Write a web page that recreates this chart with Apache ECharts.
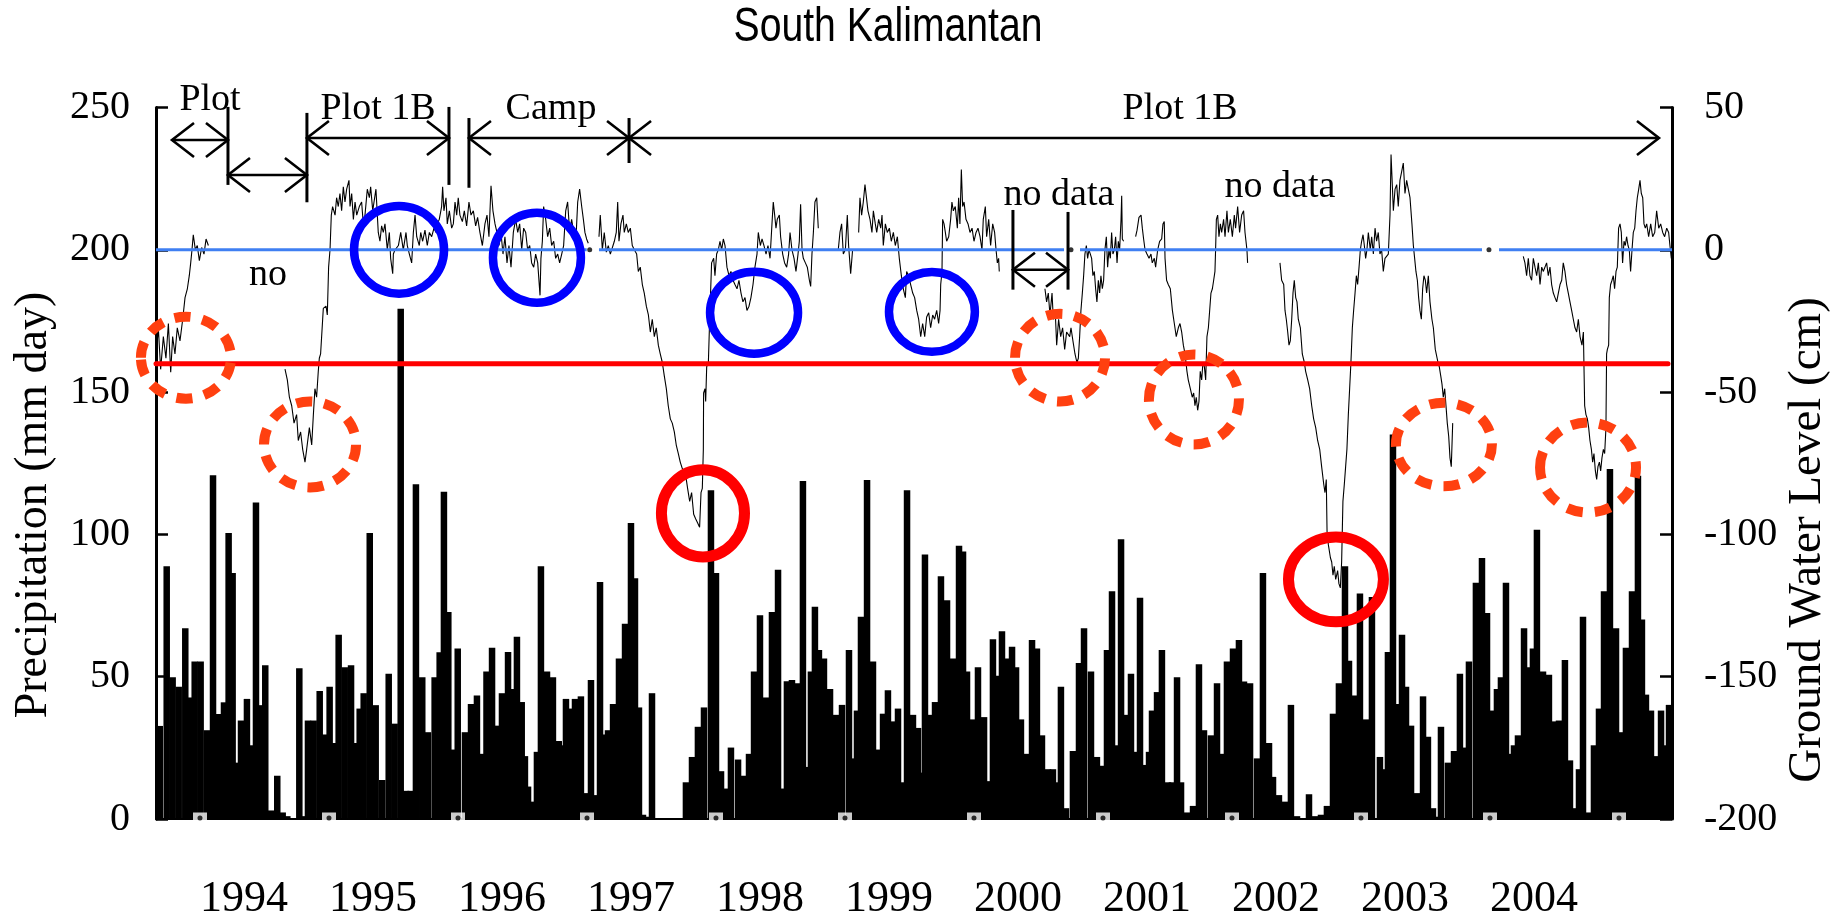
<!DOCTYPE html>
<html>
<head>
<meta charset="utf-8">
<script src="https://cdn.jsdelivr.net/npm/echarts@6/dist/echarts.min.js"></script>
<style>html,body{margin:0;padding:0;background:#fff}#chart{width:1845px;height:921px}</style>
</head>
<body>
<div id="chart"></div>
<script>
// ---------- DATA ----------
const yearTicks = [1994, 1995, 1996, 1997, 1998, 1999, 2000, 2001, 2002, 2003, 2004, 2005];
const yearLabels = [1994, 1995, 1996, 1997, 1998, 1999, 2000, 2001, 2002, 2003, 2004];
const precipTicks = [0, 50, 100, 150, 200, 250];
const levelTicks = [-200, -150, -100, -50, 0, 50];

// daily precipitation (decimal year, mm/day) - visible spikes
const precipitation = [
[1993.688,32.7],[1993.742,88.8],[1993.788,49.8],[1993.835,46.5],[1993.886,67],[1993.922,42.7],[1993.959,55.3],[1994.005,55.3],
[1994.054,31.2],[1994.101,120.8],[1994.147,36.9],[1994.186,41],[1994.222,100.5],[1994.253,86.4],[1994.284,19.8],[1994.318,34.6],
[1994.364,42.2],[1994.395,25.9],[1994.434,111.2],[1994.473,40],[1994.506,54],[1994.550,3],[1994.599,15.2],[1994.641,2.3],
[1994.677,1],[1994.721,0.3],[1994.770,53],[1994.804,1],[1994.837,34.6],[1994.881,34.6],[1994.928,45],[1994.969,29.7],
[1995.005,46.5],[1995.039,26.7],[1995.075,64.7],[1995.122,53.3],[1995.171,54],[1995.207,26.7],[1995.238,38.8],[1995.269,44.2],
[1995.316,100.5],[1995.362,40],[1995.413,13.7],[1995.463,51],[1995.509,33.5],[1995.556,179.3],[1995.597,9.9],[1995.633,9.9],
[1995.674,117.6],[1995.723,49.8],[1995.767,30.5],[1995.819,49.8],[1995.858,58.6],[1995.891,115],[1995.925,72.7],[1995.959,24.4],
[1995.998,59.9],[1996.054,30.5],[1996.101,40.4],[1996.147,43.4],[1996.186,22.9],[1996.221,51.8],[1996.264,60.2],[1996.302,32.8],
[1996.341,44.2],[1996.388,58.7],[1996.419,45.7],[1996.457,64],[1996.494,41.1],[1996.519,22.1],[1996.543,11.4],[1996.581,6.1],
[1996.612,23.6],[1996.643,88.8],[1996.690,51.8],[1996.736,49.8],[1996.781,27.4],[1996.806,25.9],[1996.837,42.2],[1996.876,38.8],
[1996.907,42.2],[1996.953,43.1],[1996.992,9.1],[1997.031,48.8],[1997.070,8.4],[1997.101,83.3],[1997.140,29.7],[1997.163,31.2],
[1997.202,40.4],[1997.248,56.4],[1997.295,68.6],[1997.341,104],[1997.372,84.6],[1997.403,39.2],[1997.434,1.5],[1997.473,0.8],
[1997.504,44.2],[1997.767,12.9],[1997.814,21.8],[1997.860,32.4],[1997.907,39.2],[1997.961,115.5],[1998.000,86.4],[1998.039,16.8],
[1998.070,10.7],[1998.116,25.1],[1998.171,20.9],[1998.217,15.2],[1998.256,22.9],[1998.295,51.8],[1998.341,71.6],[1998.388,42.7],
[1998.434,72.7],[1998.481,87.6],[1998.519,10.7],[1998.550,48.4],[1998.589,48.8],[1998.628,47.7],[1998.674,118.8],[1998.713,18.3],
[1998.736,51.8],[1998.767,74.6],[1998.798,59.4],[1998.837,56.4],[1998.884,45.7],[1998.930,36.6],[1998.977,40.1],[1999.031,59.4],
[1999.062,21.3],[1999.093,38.1],[1999.124,71.1],[1999.171,119.1],[1999.217,55.3],[1999.256,24.4],[1999.295,37],[1999.333,45.2],
[1999.372,34.3],[1999.411,38.8],[1999.450,12.9],[1999.481,115.5],[1999.527,36.6],[1999.566,32],[1999.589,16.3],[1999.620,92.9],
[1999.659,36.6],[1999.698,41.1],[1999.744,85.3],[1999.791,76.9],[1999.837,56.4],[1999.884,96],[1999.915,94],[1999.946,51.8],
[1999.984,35],[2000.031,53.3],[2000.078,35.8],[2000.116,13.3],[2000.147,63.2],[2000.186,50.3],[2000.217,66],[2000.256,56.4],
[2000.295,60.5],[2000.326,53.3],[2000.364,35],[2000.411,22.9],[2000.450,62.9],[2000.488,59.9],[2000.527,29.4],[2000.574,17.5],
[2000.612,17.5],[2000.636,12.9],[2000.674,46.5],[2000.713,3.8],[2000.767,23.9],[2000.814,54.8],[2000.853,67],[2000.907,51.8],
[2000.953,21.8],[2000.992,18.7],[2001.031,59.4],[2001.070,80],[2001.109,25.9],[2001.140,98.3],[2001.178,36.6],[2001.217,51],
[2001.256,23.6],[2001.287,77.7],[2001.326,19],[2001.357,23.6],[2001.380,38.1],[2001.419,44.6],[2001.457,59.4],[2001.504,12.9],
[2001.535,12.9],[2001.574,49.8],[2001.605,12.9],[2001.651,2.3],[2001.698,4.6],[2001.744,54.4],[2001.783,31.2],[2001.837,29.4],
[2001.884,47.7],[2001.922,22.9],[2001.961,55.3],[2002.008,59.9],[2002.054,62.9],[2002.093,48.3],[2002.140,47.7],[2002.194,21.3],
[2002.240,86.4],[2002.287,26.7],[2002.318,14.8],[2002.364,8.4],[2002.411,6.1],[2002.457,40.1],[2002.504,1],[2002.597,8.7],
[2002.643,1],[2002.690,1.5],[2002.736,4.6],[2002.783,37],[2002.829,47.7],[2002.876,88.8],[2002.907,55.6],[2002.953,43.4],
[2002.992,79.2],[2003.039,35],[2003.085,78],[2003.147,21.8],[2003.186,17.5],[2003.209,58.7],[2003.248,135.1],[2003.287,40.4],
[2003.318,64.7],[2003.349,46.5],[2003.388,32.8],[2003.434,9.1],[2003.481,43.1],[2003.519,28.9],[2003.558,3.8],[2003.589,0.8],
[2003.620,32.4],[2003.674,19.8],[2003.721,23.9],[2003.767,51],[2003.806,25.1],[2003.837,55.3],[2003.891,83],[2003.938,91.7],
[2003.977,72.4],[2004.008,38.1],[2004.054,45.7],[2004.085,49.8],[2004.124,83],[2004.163,22.9],[2004.186,25.9],[2004.217,29.4],
[2004.264,67],[2004.302,53.3],[2004.333,59.9],[2004.364,101.6],[2004.411,51.8],[2004.457,50.7],[2004.496,34.3],[2004.535,34.6],
[2004.581,55.9],[2004.620,20.6],[2004.651,3.8],[2004.690,17.5],[2004.721,71.1],[2004.760,2.3],[2004.806,25.9],[2004.845,38.8],
[2004.884,80],[2004.930,123],[2004.977,67],[2005.016,30.5],[2005.054,60.2],[2005.101,80],[2005.147,120.6],[2005.178,70.1],
[2005.209,43.7],[2005.248,38.1],[2005.287,22.1],[2005.326,38.1],[2005.349,25.9],[2005.388,40.1]
];

// ground water level (decimal year, cm); null = gap in record
const groundWater = [
[1993.664,-35.0],[1993.677,-27.4],[1993.695,-42.0],[1993.716,-30.5],[1993.736,-38.1],[1993.755,-25.9],[1993.773,-43.0],[1993.788,-30.5],
[1993.806,-36.6],[1993.824,-27.4],[1993.845,-32.0],[1993.866,-24.4],[1993.884,-16.8],[1993.902,-13.7],[1993.917,-9.1],[1993.928,-4.6],
[1993.938,0],[1993.948,5.3],[1993.964,0],[1993.979,1.5],[1993.995,-3.8],[1994.013,0.8],[1994.031,-1.5],[1994.047,3.8],[1994.065,1.5],
null,
[1994.659,-41.9],[1994.677,-45.7],[1994.693,-51.8],[1994.711,-54.8],[1994.729,-60.9],[1994.749,-57.9],[1994.762,-67.0],[1994.780,-64.0],
[1994.796,-70.1],[1994.814,-74.6],[1994.827,-70.1],[1994.848,-62.5],[1994.866,-68.6],[1994.879,-57.9],[1994.891,-48.8],[1994.904,-51.8],
[1994.917,-42.7],[1994.925,-38.1],[1994.935,-36.6],[1994.951,-24.4],[1994.956,-20.6],[1994.977,-19.8],[1994.987,-22.9],[1994.997,-6.1],
[1995.008,0],[1995.018,12.2],[1995.028,15.2],[1995.047,12.2],[1995.059,18.3],[1995.072,15.2],[1995.085,19.8],[1995.098,13.7],
[1995.111,22.1],[1995.124,16.8],[1995.137,21.3],[1995.155,24.4],[1995.163,15.2],[1995.176,19.8],[1995.189,10.7],[1995.202,16.8],
[1995.215,12.2],[1995.235,15.2],[1995.253,16.8],[1995.266,9.1],[1995.279,12.2],[1995.297,21.3],[1995.313,18.3],[1995.323,22.1],
[1995.339,13.7],[1995.349,16.8],[1995.364,21.3],[1995.382,6.1],[1995.395,3.0],[1995.408,8.4],[1995.421,6.1],[1995.434,9.1],
[1995.452,0],[1995.468,6.1],[1995.478,-3.0],[1995.494,-8.4],[1995.499,-1.5],[1995.512,0],[1995.538,1.5],[1995.556,6.1],
[1995.576,0],[1995.597,6.1],[1995.607,1.5],[1995.623,-1.5],[1995.641,-4.6],[1995.654,6.1],[1995.667,12.2],[1995.680,4.6],
[1995.700,1.5],[1995.711,6.1],[1995.726,3.0],[1995.744,6.9],[1995.762,1.5],[1995.778,6.1],[1995.796,4.6],[1995.814,7.6],
[1995.830,6.1],[1995.840,9.1],[1995.855,10.7],[1995.873,15.2],[1995.881,22.1],[1995.891,13.7],[1995.907,18.3],[1995.917,9.1],
[1995.933,13.7],[1995.951,7.6],[1995.964,9.1],[1995.977,16.8],[1995.990,12.2],[1996.002,18.3],[1996.015,12.2],[1996.034,9.9],
[1996.049,13.7],[1996.067,8.4],[1996.085,16.8],[1996.101,12.2],[1996.119,13.7],[1996.137,8.4],[1996.152,11.4],[1996.170,6.1],
[1996.189,1.5],[1996.209,9.1],[1996.225,12.2],[1996.240,4.6],[1996.256,22.5],[1996.271,13.7],[1996.287,9.1],[1996.302,6.1],
[1996.318,1.5],[1996.333,6.1],[1996.349,-1.5],[1996.364,4.6],[1996.380,-4.6],[1996.395,1.5],[1996.411,-6.1],[1996.429,6.1],
[1996.447,10.7],[1996.463,6.1],[1996.478,9.1],[1996.494,0],[1996.509,7.6],[1996.525,6.1],[1996.540,0],[1996.556,1.5],
[1996.571,-4.6],[1996.587,-6.1],[1996.602,-1.5],[1996.618,-4.6],[1996.636,-16.0],[1996.643,-3.0],[1996.654,3.0],[1996.664,15.2],
[1996.680,10.7],[1996.695,4.6],[1996.711,7.6],[1996.726,1.5],[1996.742,3.0],[1996.757,-3.0],[1996.773,-1.5],[1996.788,-4.6],
[1996.804,-1.5],[1996.819,1.5],[1996.835,13.7],[1996.850,16.8],[1996.866,6.1],[1996.881,10.7],[1996.897,6.1],[1996.912,1.5],
[1996.928,16.8],[1996.943,21.3],[1996.959,15.2],[1996.972,10.7],[1996.984,6.1],[1996.997,3.8],[1997.010,2.3],
null,
[1997.093,4.6],[1997.103,12.2],[1997.119,0],[1997.134,6.1],[1997.150,-0.8],[1997.165,1.5],[1997.181,-1.5],[1997.196,-0.8],
[1997.212,3.0],[1997.227,6.1],[1997.238,16.8],[1997.248,3.0],[1997.263,9.1],[1997.279,12.2],[1997.289,6.1],[1997.305,9.1],
[1997.320,6.1],[1997.336,7.6],[1997.351,1.5],[1997.367,0],[1997.385,-1.5],[1997.398,-7.6],[1997.413,-6.1],[1997.429,-12.2],
[1997.444,-15.2],[1997.460,-19.8],[1997.476,-22.9],[1997.491,-28.9],[1997.506,-24.4],[1997.522,-30.5],[1997.537,-27.4],[1997.553,-33.5],
[1997.568,-36.6],[1997.584,-39.6],[1997.599,-44.2],[1997.615,-48.8],[1997.630,-54.8],[1997.646,-59.4],[1997.661,-60.9],[1997.677,-64.0],
[1997.692,-68.6],[1997.708,-71.6],[1997.723,-74.6],[1997.739,-76.9],[1997.760,-77.7],[1997.780,-83.8],[1997.796,-88.4],[1997.811,-85.3],
[1997.827,-92.9],[1997.842,-94.5],[1997.858,-96.0],[1997.873,-97.5],[1997.884,-85.3],[1997.894,-83.8],[1997.902,-70.1],[1997.904,-50.3],
[1997.915,-48.8],[1997.920,-53.3],[1997.928,-41.1],[1997.941,-39.6],[1997.951,-24.4],[1997.966,-4.6],[1997.982,-3.0],[1997.992,-9.1],
[1998.005,-1.5],[1998.018,0],[1998.031,3.0],[1998.044,0],[1998.057,3.8],[1998.070,1.5],[1998.085,-6.1],[1998.101,-9.1],
[1998.116,-7.6],[1998.132,-10.7],[1998.147,-12.2],[1998.163,-13.7],[1998.178,-10.7],[1998.194,-15.2],[1998.209,-18.3],[1998.225,-16.8],
[1998.240,-21.3],[1998.256,-19.8],[1998.271,-16.8],[1998.287,-12.2],[1998.302,-6.1],[1998.318,-1.5],[1998.328,6.1],[1998.344,1.5],
[1998.357,3.8],[1998.372,1.5],[1998.388,-1.5],[1998.403,1.5],[1998.419,-3.0],[1998.434,9.1],[1998.444,16.8],[1998.455,12.2],
[1998.465,7.6],[1998.475,10.7],[1998.491,12.2],[1998.501,4.6],[1998.517,-1.5],[1998.532,-4.6],[1998.548,-6.1],[1998.563,-1.5],
[1998.574,6.1],[1998.589,0],[1998.605,-3.0],[1998.620,-7.6],[1998.636,-1.5],[1998.646,3.0],[1998.656,16.0],[1998.667,0],
[1998.677,-3.0],[1998.693,-4.6],[1998.708,-6.1],[1998.724,-10.7],[1998.734,-12.9],[1998.744,-1.5],[1998.755,6.1],[1998.767,16.8],
[1998.781,18.3],[1998.793,7.6],
null,
[1998.948,0],[1998.961,6.1],[1998.974,9.1],[1998.987,-1.5],[1999.003,0],[1999.018,12.2],[1999.028,1.5],[1999.044,-8.4],[1999.059,0],
null,
[1999.106,6.1],[1999.116,18.3],[1999.129,12.2],[1999.142,16.8],[1999.155,22.9],[1999.168,23.6],[1999.178,13.7],[1999.194,10.7],
[1999.209,6.1],[1999.220,13.7],[1999.235,9.1],[1999.246,6.1],[1999.261,10.7],[1999.277,7.6],[1999.287,12.2],[1999.297,1.5],
[1999.313,9.1],[1999.328,6.1],[1999.344,7.6],[1999.359,3.0],[1999.375,6.1],[1999.390,1.5],[1999.406,4.6],[1999.421,-3.0],
[1999.437,-9.1],[1999.452,-13.7],[1999.468,-16.8],[1999.478,-7.6],[1999.493,-9.1],[1999.509,-12.2],[1999.525,-15.2],[1999.540,-16.8],
[1999.556,-21.3],[1999.571,-24.4],[1999.587,-30.5],[1999.602,-25.9],[1999.618,-30.5],[1999.633,-23.6],[1999.649,-22.1],[1999.664,-27.4],
[1999.680,-22.9],[1999.695,-24.4],[1999.711,-21.3],[1999.726,-25.9],[1999.737,-21.3],[1999.742,-12.2],[1999.752,-7.6],[1999.757,10.7],
[1999.768,9.1],[1999.778,6.1],[1999.788,3.0],[1999.804,4.6],[1999.819,10.7],[1999.829,16.8],[1999.840,13.7],[1999.855,15.2],
[1999.871,7.6],[1999.881,18.3],[1999.891,9.1],[1999.902,28.2],[1999.912,15.2],[1999.923,16.8],[1999.938,10.7],[1999.954,9.1],
[1999.969,6.1],[1999.985,7.6],[2000.000,3.0],[2000.016,6.1],[2000.031,7.6],[2000.047,4.6],[2000.062,0],[2000.072,10.7],
[2000.088,15.2],[2000.098,4.6],[2000.114,10.7],[2000.129,1.5],[2000.145,9.1],[2000.160,6.1],[2000.171,0],[2000.181,-4.6],
[2000.191,-3.0],[2000.196,-7.6],
null,
[2000.550,-13.7],[2000.563,-18.3],[2000.576,-15.2],[2000.589,-22.9],[2000.605,-15.2],[2000.615,-24.4],[2000.631,-22.9],[2000.641,-33.5],
[2000.656,-24.4],[2000.672,-30.5],[2000.687,-27.4],[2000.703,-35.0],[2000.718,-28.9],[2000.726,-28.9],[2000.742,-30.5],[2000.752,-27.4],
[2000.767,-32.0],[2000.783,-36.6],[2000.798,-39.6],[2000.809,-38.1],[2000.819,-30.5],[2000.829,-21.3],[2000.840,-15.2],[2000.850,-9.1],
[2000.860,-1.5],[2000.871,1.5],[2000.881,-3.0],[2000.891,0],[2000.902,-1.5],[2000.912,-3.0],[2000.922,-9.1],[2000.933,-7.6],
[2000.943,-13.7],[2000.953,-18.3],[2000.964,-10.7],[2000.974,-15.2],[2000.984,-9.1],[2000.995,-13.7],[2001.005,-10.7],[2001.015,0],
[2001.026,4.6],[2001.036,-6.1],[2001.046,0],[2001.057,-3.0],[2001.067,6.1],[2001.077,-1.5],[2001.088,0],[2001.098,4.6],
[2001.109,-4.6],[2001.119,3.0],[2001.129,0],[2001.140,10.7],[2001.145,19.0],[2001.150,3.8],[2001.160,3.0],
null,
[2001.253,4.6],[2001.264,6.9],[2001.279,11.4],[2001.295,12.2],[2001.305,7.6],[2001.315,3.8],[2001.326,0],[2001.341,-1.5],
[2001.357,-3.0],[2001.372,-1.5],[2001.382,-4.6],[2001.398,-3.0],[2001.408,-6.1],[2001.424,0],[2001.439,3.0],[2001.455,3.8],
[2001.465,9.1],[2001.475,9.9],[2001.481,-3.0],[2001.493,-10.7],[2001.506,-12.2],[2001.522,-13.7],[2001.538,-21.3],[2001.553,-25.9],
[2001.568,-30.5],[2001.584,-27.4],[2001.597,-25.9],[2001.610,-28.9],[2001.623,-33.5],[2001.636,-36.6],[2001.651,-42.7],[2001.661,-45.7],
[2001.677,-48.8],[2001.692,-51.8],[2001.703,-50.3],[2001.713,-54.8],[2001.723,-51.8],[2001.734,-56.4],[2001.744,-53.3],[2001.754,-42.7],
[2001.765,-45.7],[2001.775,-39.6],[2001.786,-41.1],[2001.796,-45.7],[2001.806,-30.5],[2001.817,-27.4],[2001.827,-21.3],[2001.837,-15.2],
[2001.848,-13.7],[2001.858,-10.7],[2001.868,-7.6],[2001.873,0],[2001.879,10.7],[2001.889,12.2],[2001.899,4.6],[2001.910,9.1],
[2001.920,6.1],[2001.935,10.7],[2001.946,4.6],[2001.961,13.7],[2001.972,6.1],[2001.987,10.7],[2002.003,4.6],[2002.018,12.2],
[2002.028,7.6],[2002.044,15.2],[2002.059,6.1],[2002.075,12.2],[2002.090,13.7],[2002.101,6.1],[2002.116,0],[2002.121,-4.6],
null,
[2002.372,-4.6],[2002.385,-10.7],[2002.401,-12.2],[2002.411,-21.3],[2002.421,-24.4],[2002.432,-28.9],[2002.442,-33.5],[2002.452,-32.0],
[2002.463,-24.4],[2002.473,-15.2],[2002.483,-10.7],[2002.494,-16.8],[2002.504,-18.3],[2002.514,-24.4],[2002.530,-27.4],[2002.545,-36.6],
[2002.561,-39.6],[2002.571,-42.7],[2002.587,-45.7],[2002.602,-48.8],[2002.618,-54.8],[2002.633,-59.4],[2002.649,-62.5],[2002.664,-67.0],
[2002.680,-70.1],[2002.695,-76.2],[2002.711,-82.3],[2002.721,-85.3],[2002.731,-80.7],[2002.737,-99.0],[2002.747,-103.6],[2002.763,-108.2],
[2002.773,-109.7],[2002.783,-114.3],[2002.793,-111.2],[2002.804,-115.8],[2002.819,-112.7],[2002.829,-117.3],[2002.840,-118.8],[2002.850,-109.7],
[2002.860,-88.4],[2002.871,-82.3],[2002.881,-76.2],[2002.891,-70.1],[2002.902,-57.9],[2002.912,-48.8],[2002.922,-39.6],[2002.933,-27.4],
[2002.943,-21.3],[2002.954,-15.2],[2002.964,-9.1],[2002.974,-12.2],[2002.985,-6.1],[2002.995,0],[2003.005,3.0],[2003.016,5.3],
[2003.026,1.5],[2003.036,-3.0],[2003.046,0],[2003.057,6.1],[2003.072,0],[2003.083,4.6],[2003.096,-1.5],[2003.109,7.6],
[2003.121,3.0],[2003.134,6.1],[2003.147,-1.5],[2003.160,0],[2003.173,-7.6],[2003.186,-3.0],[2003.199,-2.3],[2003.212,-1.5],
[2003.225,12.2],[2003.233,33.5],[2003.240,25.9],[2003.251,13.7],[2003.264,21.3],[2003.277,22.9],[2003.289,15.2],[2003.302,24.4],
[2003.315,27.4],[2003.328,30.5],[2003.341,19.8],[2003.354,24.4],[2003.367,21.3],[2003.380,18.3],[2003.395,9.1],[2003.406,1.5],
[2003.416,-3.0],[2003.426,-7.6],[2003.437,-10.7],[2003.447,-16.8],[2003.457,-21.3],[2003.468,-24.4],[2003.478,-13.7],[2003.488,-9.1],
[2003.499,-10.7],[2003.509,-15.2],[2003.522,-9.1],[2003.535,-18.3],[2003.550,-24.4],[2003.561,-27.4],[2003.576,-35.0],[2003.587,-35.0],
[2003.597,-39.6],[2003.607,-41.1],[2003.618,-44.2],[2003.628,-47.2],[2003.638,-51.8],[2003.649,-48.8],[2003.659,-54.8],[2003.669,-60.9],
[2003.680,-65.5],[2003.690,-73.1],[2003.700,-76.2],[2003.711,-60.9],
null,
[2004.258,-2.3],[2004.271,-4.6],[2004.284,-9.1],[2004.297,-3.0],[2004.310,-9.1],[2004.323,-10.7],[2004.336,-3.0],[2004.349,-6.1],
[2004.362,-9.1],[2004.375,-4.6],[2004.388,-12.2],[2004.401,-6.1],[2004.413,-7.6],[2004.426,-7.6],[2004.439,-4.6],[2004.452,-9.1],
[2004.465,-6.1],[2004.478,-12.2],[2004.491,-15.2],[2004.504,-16.8],[2004.517,-18.3],[2004.530,-15.2],[2004.543,-12.2],[2004.556,-10.7],
[2004.568,-4.6],[2004.581,-7.6],[2004.594,-12.2],[2004.607,-15.2],[2004.620,-18.3],[2004.633,-21.3],[2004.646,-24.4],[2004.659,-27.4],
[2004.672,-28.9],[2004.685,-24.4],[2004.698,-30.5],[2004.713,-33.5],[2004.724,-28.9],[2004.734,-54.8],[2004.744,-57.9],[2004.755,-59.4],
[2004.765,-62.5],[2004.775,-67.0],[2004.786,-70.1],[2004.796,-74.6],[2004.806,-71.6],[2004.817,-77.7],[2004.827,-80.7],[2004.837,-76.2],
[2004.848,-74.6],[2004.858,-77.7],[2004.868,-73.1],[2004.879,-70.1],[2004.889,-71.6],[2004.899,-62.5],[2004.904,-36.6],[2004.910,-35.0],
[2004.920,-33.5],[2004.925,-16.8],[2004.935,-12.2],[2004.946,-10.7],[2004.956,-9.1],[2004.966,-13.7],[2004.977,-7.6],[2004.987,-6.1],
[2004.997,7.6],[2005.008,9.1],[2005.018,6.1],[2005.028,-4.6],[2005.039,3.0],[2005.049,1.5],[2005.059,4.6],[2005.070,1.5],
[2005.080,0],[2005.090,-7.6],[2005.101,0],[2005.111,6.1],[2005.122,7.6],[2005.132,13.7],[2005.142,18.3],[2005.153,21.3],
[2005.163,24.4],[2005.173,19.8],[2005.184,18.3],[2005.194,9.1],[2005.204,7.6],[2005.215,9.1],[2005.230,4.6],[2005.246,9.1],
[2005.261,4.6],[2005.277,6.1],[2005.292,13.7],[2005.308,7.6],[2005.323,9.1],[2005.339,6.1],[2005.354,4.6],[2005.370,7.6],
[2005.385,6.1],[2005.395,1.5],[2005.406,-3.0]
];

// reference level 0 cm (blue) drawn over these year spans, with a dot in each break
const surfaceLevel = 0;
const surfaceSpans = [[1993.659, 1996.998], [1997.093, 2000.698], [2000.822, 2003.938], [2004.070, 2005.411]];
const surfaceDots = [1997.021, 2000.752, 2003.992];
// critical level -40 cm (red)
const criticalLevel = -40;
const criticalSpan = [1993.659, 2005.380];

// annotation rings: [year, precipitation-axis value, radius in years, radius in axis units]
const blueRings = [[1995.543, 200.0, 0.349, 15.4], [1996.612, 197.2, 0.341, 15.8], [1998.295, 177.9, 0.341, 14.4], [1999.674, 178.2, 0.333, 14.0]];
const redRings = [[1997.899, 107.4, 0.322, 15.3], [2002.806, 84.2, 0.368, 14.9]];
const dashedRings = [[1993.891, 162.1, 0.349, 14.4], [1994.853, 131.6, 0.357, 15.1], [2000.667, 162.1, 0.349, 15.4],
                     [2001.705, 147.4, 0.349, 15.8], [2003.643, 131.6, 0.372, 14.7], [2004.760, 123.5, 0.372, 15.8]];

// period arrows: [from year, to year, axis value]
const periodArrows = [[1993.783, 1994.217, 238.6], [1994.217, 1994.829, 226.3], [1994.829, 1995.930, 239.3],
                      [1996.085, 1997.326, 239.3], [1997.326, 2005.310, 239.3], [2000.302, 2000.729, 193.0]];
// period boundaries: [year, top value, bottom value]
const periodBounds = [[1994.217, 250.2, 222.8], [1994.829, 248.1, 216.7], [1995.930, 250.2, 222.8], [1996.085, 246.3, 221.8],
                      [1997.326, 246.3, 230.5], [2000.302, 214.0, 186.0], [2000.729, 213.3, 186.0]];
const periodLabels = ['Plot', 'Plot 1B', 'Camp', 'Plot 1B', 'no', 'no data', 'no data'];
const periodLabelPos = [[1994.078, 252.6], [1995.380, 249.6], [1996.721, 249.6], [2001.597, 249.6], [1994.527, 191.2], [2000.659, 219.3], [2002.372, 222.1]];

// ---------- CHART ----------
const serif = '"Liberation Serif", "Times New Roman", serif';
const chart = echarts.init(document.getElementById('chart'), null, {renderer: 'canvas'});

function splitSegments(arr) {
  const segs = []; let cur = [];
  arr.forEach(p => { if (p === null) { if (cur.length) segs.push(cur); cur = []; } else cur.push(p); });
  if (cur.length) segs.push(cur);
  return segs;
}

function ringRenderer(color, width, dash) {
  return function (params, api) {
    const c = api.coord([api.value(0), api.value(1)]);
    const s = api.size([api.value(2), api.value(3)]);
    return {
      type: 'ellipse',
      shape: {cx: c[0], cy: c[1], rx: s[0], ry: s[1]},
      style: {fill: 'none', stroke: color, lineWidth: width, lineDash: dash || null}
    };
  };
}

const series = [];
series.push({
  type: 'bar', name: 'Precipitation', data: precipitation, xAxisIndex: 0, yAxisIndex: 0,
  barWidth: 6.5, itemStyle: {color: '#000'}, z: 2, silent: true
});
splitSegments(groundWater).forEach((seg, i) => {
  series.push({
    type: 'line', name: 'Ground water level', data: seg, yAxisIndex: 1, symbol: 'none', showSymbol: false,
    lineStyle: {color: '#000', width: 1.1}, z: 3, silent: true
  });
});
surfaceSpans.forEach(sp => {
  series.push({
    type: 'line', data: [[sp[0], surfaceLevel], [sp[1], surfaceLevel]], yAxisIndex: 1, symbol: 'none',
    lineStyle: {color: '#3f7ff2', width: 3}, z: 4, silent: true
  });
});
series.push({
  type: 'scatter', data: surfaceDots.map(x => [x, surfaceLevel]), yAxisIndex: 1, symbol: 'circle', symbolSize: 5,
  itemStyle: {color: '#000'}, z: 4, silent: true
});
series.push({
  type: 'line', data: [[criticalSpan[0], criticalLevel], [criticalSpan[1], criticalLevel]], yAxisIndex: 1, symbol: 'none',
  lineStyle: {color: '#ff0000', width: 5, cap: 'round'}, z: 5, silent: true
});
series.push({type: 'custom', data: blueRings, yAxisIndex: 0, renderItem: ringRenderer('#0000ff', 8.5), z: 6, silent: true, clip: false});
series.push({type: 'custom', data: redRings, yAxisIndex: 0, renderItem: ringRenderer('#ff0000', 11), z: 6, silent: true, clip: false});
series.push({type: 'custom', data: dashedRings, yAxisIndex: 0, renderItem: ringRenderer('#ff4010', 10, [16, 12]), z: 6, silent: true, clip: false});
series.push({
  type: 'custom', data: periodArrows, yAxisIndex: 0, z: 7, silent: true, clip: false,
  renderItem: function (params, api) {
    const y = api.value(2);
    const a = api.coord([api.value(0), y]);
    const b = api.coord([api.value(1), y]);
    const L = 22, H = 17;
    const st = {stroke: '#000', lineWidth: 2.6, fill: 'none'};
    return {type: 'group', children: [
      {type: 'line', shape: {x1: a[0], y1: a[1], x2: b[0], y2: b[1]}, style: st},
      {type: 'polyline', shape: {points: [[a[0] + L, a[1] - H], [a[0], a[1]], [a[0] + L, a[1] + H]]}, style: st},
      {type: 'polyline', shape: {points: [[b[0] - L, b[1] - H], [b[0], b[1]], [b[0] - L, b[1] + H]]}, style: st}
    ]};
  }
});
series.push({
  type: 'custom', data: periodBounds, yAxisIndex: 0, z: 7, silent: true, clip: false,
  renderItem: function (params, api) {
    const a = api.coord([api.value(0), api.value(1)]);
    const b = api.coord([api.value(0), api.value(2)]);
    return {type: 'line', shape: {x1: a[0], y1: a[1], x2: b[0], y2: b[1]}, style: {stroke: '#000', lineWidth: 3}};
  }
});
series.push({
  type: 'custom', data: periodLabelPos, yAxisIndex: 0, z: 7, silent: true, clip: false,
  renderItem: function (params, api) {
    const p = api.coord([api.value(0), api.value(1)]);
    return {type: 'text', x: p[0], y: p[1], style: {
      text: periodLabels[params.dataIndex], fill: '#000', font: '38px ' + serif, align: 'center', verticalAlign: 'middle'}};
  }
});
// year tick markers on the time axis
series.push({
  type: 'scatter', data: yearTicks.map(y => [y, 0]), yAxisIndex: 0, symbol: 'rect', symbolSize: [14, 11],
  symbolOffset: [0, -1], itemStyle: {color: '#fff'}, z: 8, silent: true, clip: false
});
series.push({
  type: 'scatter', data: yearTicks.map(y => [y, 0]), yAxisIndex: 0, symbol: 'circle', symbolSize: 5,
  symbolOffset: [0, -1], itemStyle: {color: '#000'}, z: 9, silent: true, clip: false
});

const option = {
  animation: false,
  backgroundColor: '#fff',
  grid: {left: 156, right: 173, top: 107.5, bottom: 101, containLabel: false},
  xAxis: {
    type: 'value', min: 1993.659, max: 2005.411,
    axisLine: {show: true, onZero: false, lineStyle: {color: '#000', width: 2}},
    axisTick: {show: false}, splitLine: {show: false},
    axisLabel: {
      customValues: yearLabels, formatter: v => String(Math.round(v)), align: 'left', margin: 58,
      fontSize: 44, fontFamily: serif, color: '#000'
    }
  },
  yAxis: [
    {
      type: 'value', min: precipTicks[0], max: precipTicks[precipTicks.length - 1], interval: 50, position: 'left',
      axisLine: {show: true, lineStyle: {color: '#000', width: 3}},
      axisTick: {show: true, inside: true, length: 12, lineStyle: {color: '#000', width: 2.5}},
      splitLine: {show: false},
      axisLabel: {margin: 26, fontSize: 40, fontFamily: serif, color: '#000', padding: [8, 0, 0, 0]}
    },
    {
      type: 'value', min: levelTicks[0], max: levelTicks[levelTicks.length - 1], interval: 50, position: 'right',
      axisLine: {show: true, lineStyle: {color: '#000', width: 3}},
      axisTick: {show: true, inside: true, length: 12, lineStyle: {color: '#000', width: 2.5}},
      splitLine: {show: false},
      axisLabel: {margin: 32, fontSize: 40, fontFamily: serif, color: '#000', padding: [8, 0, 0, 0]}
    }
  ],
  graphic: [
    {type: 'text', x: 888, y: 28, scaleX: 0.815, silent: true,
     style: {text: 'South Kalimantan', font: '48px "Liberation Sans", Arial, sans-serif', fill: '#000', align: 'center', verticalAlign: 'middle'}},
    {type: 'text', x: 33.5, y: 505, rotation: Math.PI / 2, silent: true,
     style: {text: 'Precipitation (mm day)', font: '46px ' + serif, fill: '#000', align: 'center', verticalAlign: 'middle'}},
    {type: 'text', x: 1808, y: 540, rotation: Math.PI / 2, silent: true,
     style: {text: 'Ground Water Level (cm)', font: '47px ' + serif, fill: '#000', align: 'center', verticalAlign: 'middle'}}
  ],
  series: series
};
chart.setOption(option);
</script>
</body>
</html>
